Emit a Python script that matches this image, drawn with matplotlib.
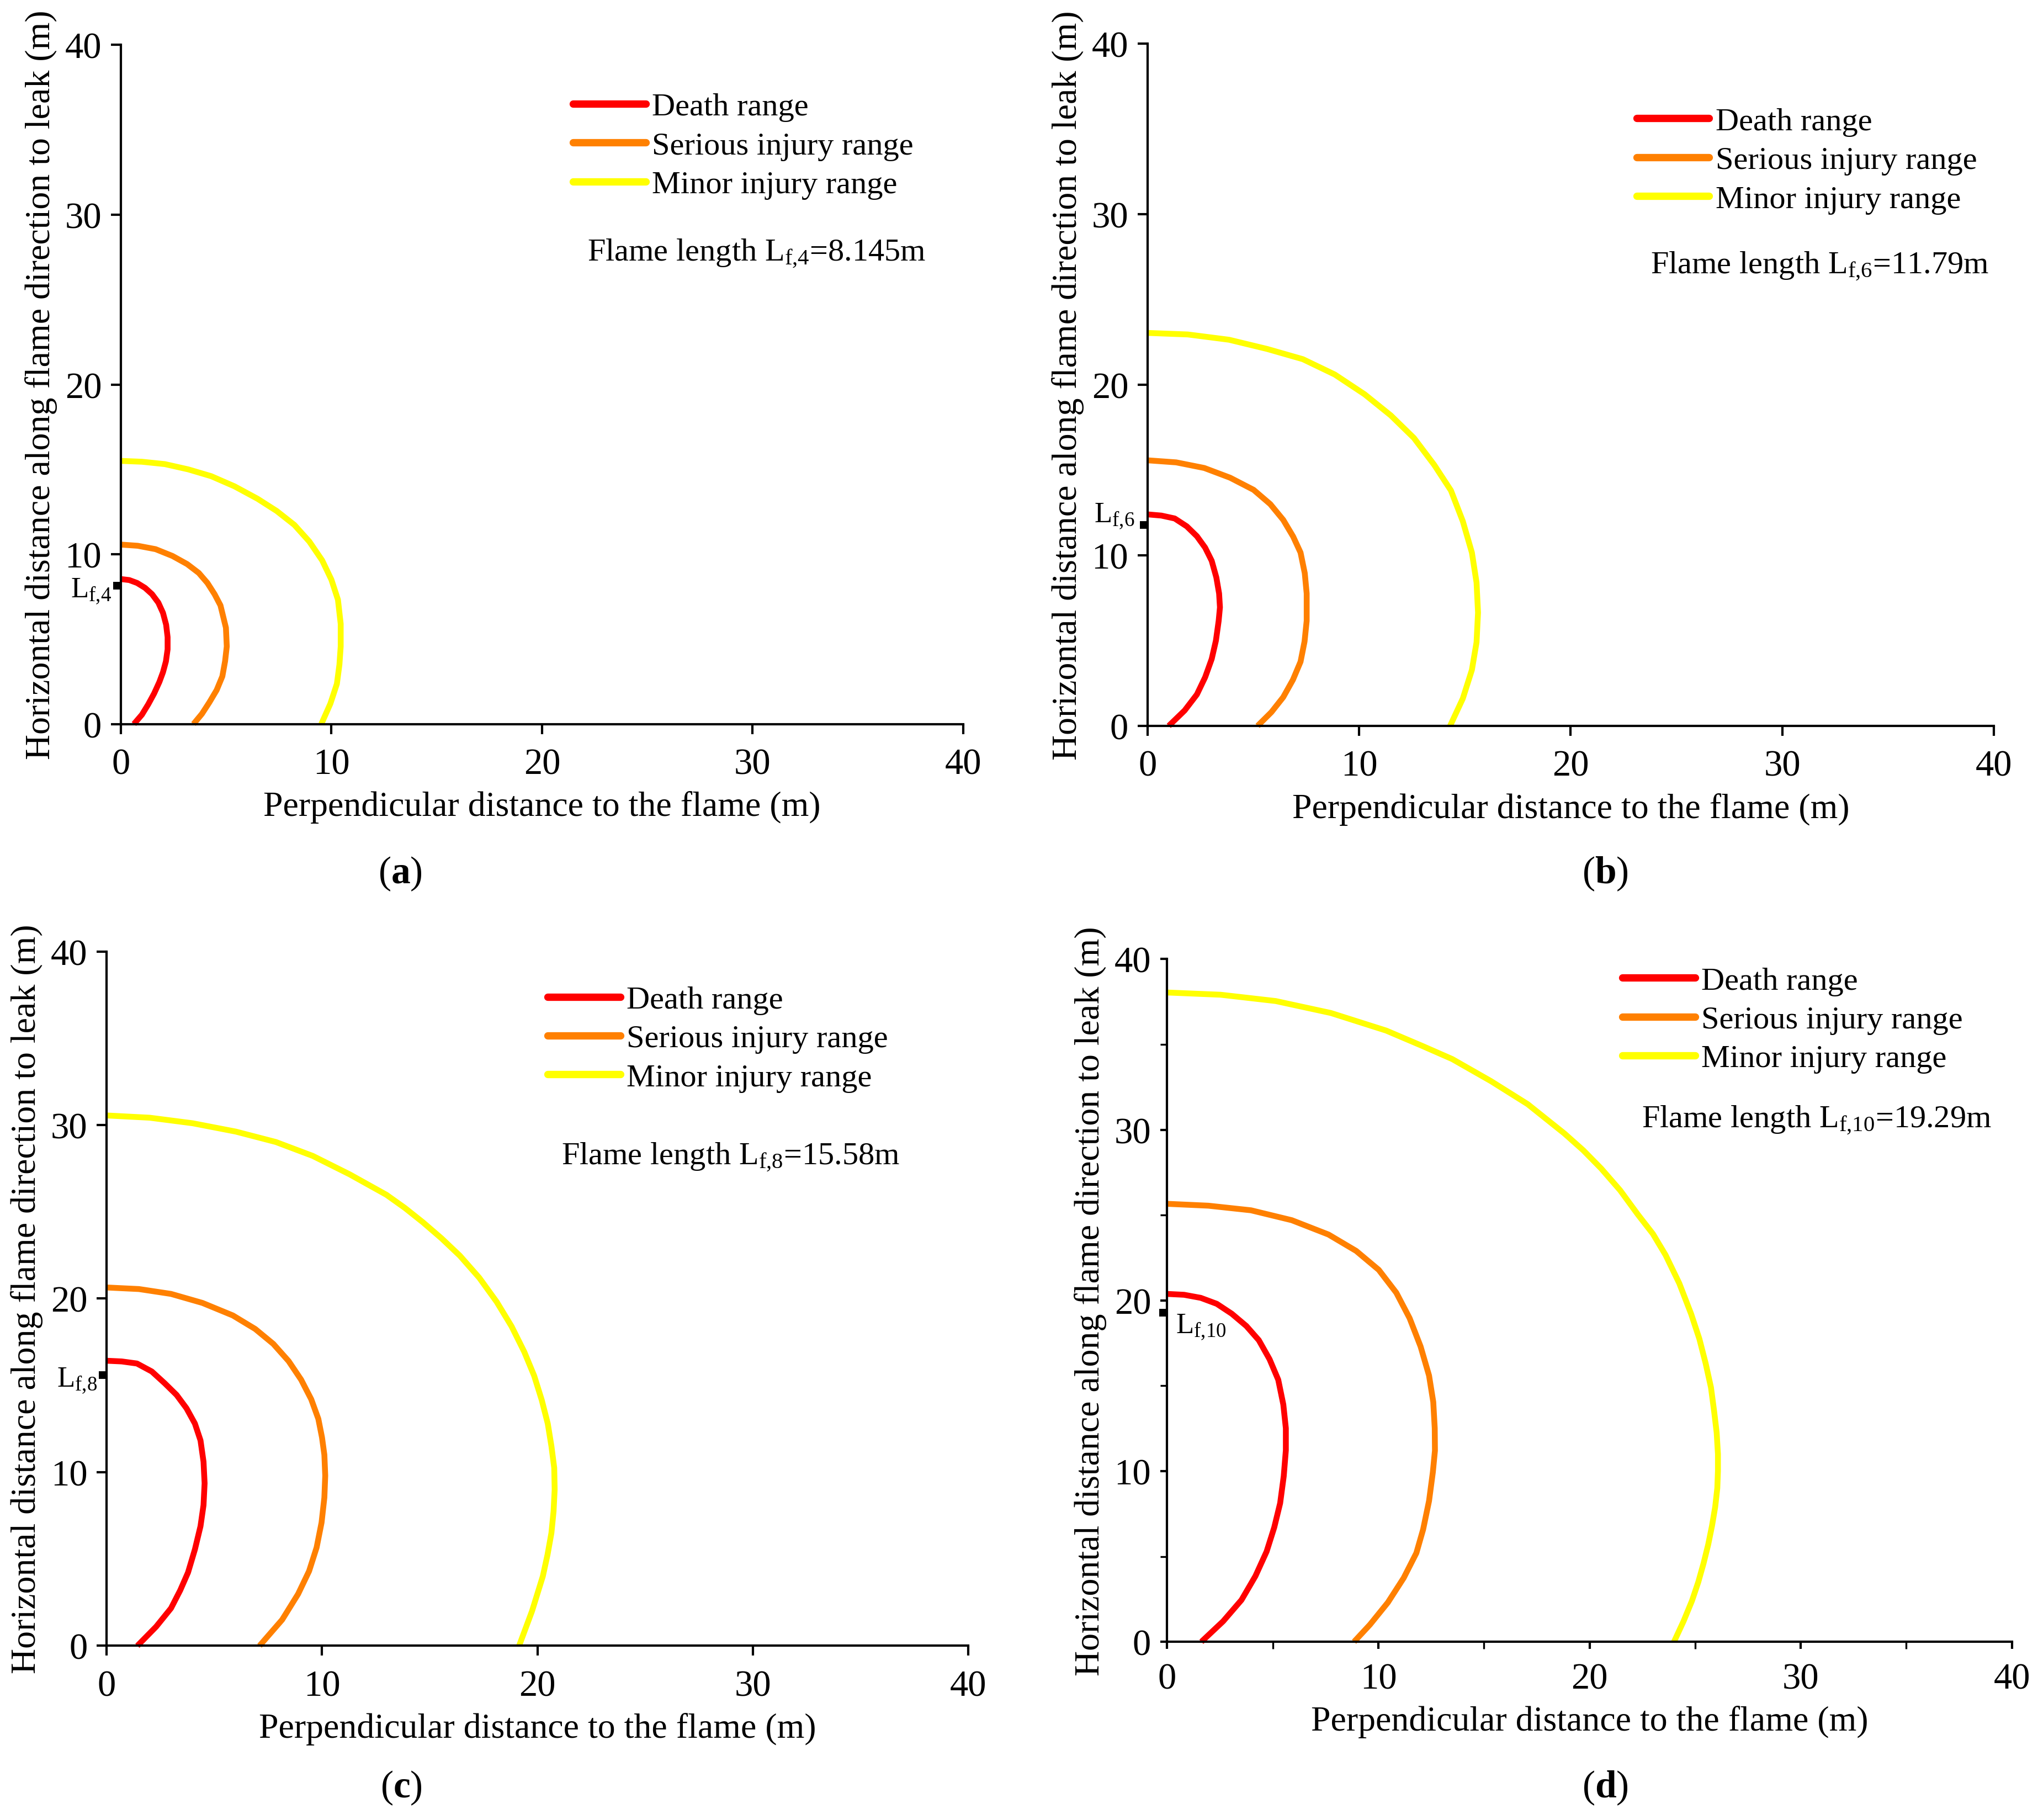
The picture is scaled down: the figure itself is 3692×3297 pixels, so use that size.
import matplotlib
matplotlib.use("Agg")
import matplotlib.pyplot as plt
from matplotlib.ticker import MultipleLocator

plt.rcParams['font.family'] = ['Liberation Serif', 'DejaVu Serif']
plt.rcParams['mathtext.fontset'] = 'custom'
plt.rcParams['mathtext.rm'] = 'Liberation Serif'
plt.rcParams['mathtext.it'] = 'Liberation Serif:italic'
plt.rcParams['mathtext.bf'] = 'Liberation Serif:bold'

# ---- data (x = perpendicular, y = along flame) ----
# panel (a)
death_a_x = [0, 0.4, 0.77, 1.15, 1.48, 1.78, 2.0, 2.15, 2.22, 2.22, 2.14, 2.0, 1.83, 1.58, 1.3, 1.0, 0.62]
death_a_y = [8.54, 8.48, 8.31, 8.02, 7.65, 7.15, 6.55, 5.85, 5.12, 4.4, 3.69, 3.05, 2.48, 1.8, 1.16, 0.55, 0]
serious_a_x = [0, 0.8, 1.65, 2.45, 3.15, 3.7, 4.11, 4.45, 4.73, 4.99, 5.03, 4.95, 4.82, 4.55, 4.2, 3.85, 3.45]
serious_a_y = [10.57, 10.5, 10.3, 9.9, 9.42, 8.9, 8.31, 7.65, 6.99, 5.67, 4.57, 3.7, 2.81, 2.0, 1.27, 0.6, 0]
minor_a_x = [0, 1.0, 2.09, 3.2, 4.29, 5.4, 6.49, 7.4, 8.24, 8.95, 9.56, 10.0, 10.31, 10.44, 10.44, 10.38, 10.26, 9.95, 9.52]
minor_a_y = [15.5, 15.45, 15.31, 15.0, 14.6, 14.0, 13.27, 12.55, 11.73, 10.75, 9.64, 8.5, 7.32, 5.9, 4.57, 3.5, 2.37, 1.2, 0]

# panel (b)
death_b_x = [0, 0.65, 1.28, 1.85, 2.33, 2.72, 3.03, 3.25, 3.38, 3.42, 3.36, 3.23, 3.03, 2.72, 2.33, 1.75, 1.0]
death_b_y = [12.4, 12.33, 12.16, 11.7, 11.12, 10.45, 9.68, 8.7, 7.76, 6.95, 6.16, 5.0, 3.92, 2.85, 1.84, 0.9, 0]
serious_b_x = [0, 1.35, 2.68, 3.9, 5.01, 5.8, 6.41, 6.88, 7.23, 7.43, 7.52, 7.52, 7.42, 7.23, 6.87, 6.41, 5.85, 5.2]
serious_b_y = [15.57, 15.45, 15.12, 14.55, 13.84, 13.0, 12.08, 11.1, 10.16, 8.95, 7.76, 6.16, 4.95, 3.76, 2.7, 1.68, 0.8, 0]
minor_b_x = [0, 1.9, 3.85, 5.65, 7.34, 8.85, 10.26, 11.5, 12.59, 13.55, 14.34, 14.9, 15.33, 15.55, 15.62, 15.55, 15.33, 14.9, 14.3]
minor_b_y = [23.04, 22.95, 22.64, 22.1, 21.5, 20.6, 19.44, 18.2, 16.88, 15.3, 13.8, 12.0, 10.16, 8.4, 6.64, 4.9, 3.28, 1.6, 0]

# panel (c)
death_c_x = [0, 0.7, 1.41, 2.1, 2.7, 3.25, 3.71, 4.1, 4.36, 4.5, 4.55, 4.5, 4.36, 4.1, 3.78, 3.42, 2.99, 2.3, 1.43]
death_c_y = [16.42, 16.38, 16.26, 15.8, 15.12, 14.45, 13.68, 12.8, 11.83, 10.6, 9.36, 8.1, 6.89, 5.55, 4.22, 3.2, 2.16, 1.1, 0]
serious_c_x = [0, 1.5, 2.99, 4.45, 5.86, 6.9, 7.74, 8.45, 9.03, 9.5, 9.83, 10.0, 10.11, 10.15, 10.11, 9.98, 9.75, 9.4, 8.89, 8.15, 7.1]
serious_c_y = [20.64, 20.55, 20.27, 19.75, 19.03, 18.25, 17.39, 16.4, 15.33, 14.2, 13.07, 12.0, 11.0, 9.8, 8.54, 7.1, 5.66, 4.3, 2.98, 1.5, 0]
minor_c_x = [0, 2.0, 4.0, 6.0, 7.86, 9.57, 11.28, 12.99, 13.85, 14.69, 15.55, 16.4, 17.3, 18.11, 18.8, 19.39,
             19.85, 20.2, 20.48, 20.65, 20.78, 20.8, 20.75, 20.65, 20.47, 20.25, 19.75, 19.15]
minor_c_y = [30.55, 30.42, 30.1, 29.62, 29.02, 28.22, 27.16, 25.98, 25.22, 24.39, 23.47, 22.47, 21.2, 19.81, 18.4, 16.93,
             15.55, 14.16, 12.8, 11.5, 10.25, 9.0, 7.75, 6.5, 5.25, 4.0, 2.0, 0]

# panel (d)
death_d_x = [0, 0.8, 1.59, 2.35, 3.06, 3.75, 4.34, 4.85, 5.26, 5.5, 5.62, 5.62, 5.52, 5.35, 5.07, 4.71, 4.18, 3.52, 2.65, 1.62]
death_d_y = [20.38, 20.33, 20.15, 19.8, 19.22, 18.5, 17.67, 16.55, 15.35, 13.9, 12.51, 11.22, 9.7, 8.12, 6.7, 5.29, 3.85, 2.45, 1.2, 0]
serious_d_x = [0, 1.95, 3.97, 5.9, 7.64, 8.95, 10.02, 10.85, 11.48, 12.0, 12.4, 12.6, 12.67, 12.68, 12.58, 12.4, 12.12, 11.8, 11.2, 10.45, 9.6, 8.85]
serious_d_y = [25.66, 25.55, 25.28, 24.7, 23.86, 22.9, 21.79, 20.45, 18.96, 17.3, 15.6, 14.05, 12.51, 11.2, 9.93, 8.25, 6.58, 5.2, 3.74, 2.3, 1.0, 0]
minor_d_x = [0, 2.53, 5.14, 7.75, 10.37, 12.1, 13.5, 15.33, 17.07, 18.81, 19.7, 20.55, 21.45, 22.29, 23.0, 23.6, 24.25,
             24.81, 25.2, 25.5, 25.75, 25.9, 26.02, 26.08, 26.08, 26.05, 25.95, 25.8, 25.62, 25.4, 25.15, 24.85, 24.45, 24.0]
minor_d_y = [38.04, 37.91, 37.54, 36.84, 35.81, 34.9, 34.14, 32.85, 31.5, 29.78, 28.8, 27.73, 26.45, 25.03, 23.9, 22.66, 21.0,
             19.21, 17.75, 16.3, 14.9, 13.5, 12.25, 11.0, 10.0, 9.0, 7.9, 6.8, 5.7, 4.6, 3.5, 2.4, 1.2, 0]

flame_len = [8.145, 11.79, 15.58, 19.29]
flame_txt = ["8.145", "11.79", "15.58", "19.29"]
flame_idx = ["4", "6", "8", "10"]
panel_tags = ["a", "b", "c", "d"]

range_names = ["Death range", "Serious injury range", "Minor injury range"]
range_colors = ["#FF0000", "#FF8000", "#FFFF00"]

curves = [
    [(death_a_x, death_a_y), (serious_a_x, serious_a_y), (minor_a_x, minor_a_y)],
    [(death_b_x, death_b_y), (serious_b_x, serious_b_y), (minor_b_x, minor_b_y)],
    [(death_c_x, death_c_y), (serious_c_x, serious_c_y), (minor_c_x, minor_c_y)],
    [(death_d_x, death_d_y), (serious_d_x, serious_d_y), (minor_d_x, minor_d_y)],
]

# layout (figure fractions) of each panel: left, bottom, width, height
boxes = [
    (0.0593, 0.602, 0.4133, 0.373),
    (0.5631, 0.601, 0.4152, 0.3747),
    (0.0523, 0.0957, 0.4228, 0.3814),
    (0.5727, 0.0979, 0.4145, 0.375),
]
legend_pos = [(0.537, 0.930), (0.578, 0.907), (0.512, 0.951), (0.539, 0.989)]
flame_pos = [(0.554, 0.693), (0.594, 0.674), (0.528, 0.704), (0.562, 0.764)]
# Lf label offsets in points and alignment
lf_offsets = [(-6, -7, 'right'), (-8.5, 2, 'right'), (-6, -7, 'right'), (5.5, -13, 'left')]
tag_pos = [(0.1964, 0.520), (0.7876, 0.520), (0.197, 0.018), (0.7876, 0.018)]

fig = plt.figure(figsize=(18.46, 16.49), dpi=200)

for i in range(4):
    ax = fig.add_axes(boxes[i])
    for (xs, ys), name, col in zip(curves[i], range_names, range_colors):
        ax.plot(xs, ys, color=col, lw=3.8, label=name, clip_on=False,
                solid_capstyle='butt', solid_joinstyle='round')

    ax.set_xlim(0, 40)
    ax.set_ylim(0, 40)
    ax.xaxis.set_major_locator(MultipleLocator(10))
    ax.yaxis.set_major_locator(MultipleLocator(10))
    for side in ['top', 'right']:
        ax.spines[side].set_visible(False)
    for side in ['left', 'bottom']:
        ax.spines[side].set_linewidth(1.5)
    tick_len = 6.5 if i < 3 else 4.5
    ax.tick_params(which='major', direction='out', length=tick_len, width=1.5,
                   labelsize=24)
    ax.tick_params(axis='x', which='major', pad=9)
    ax.tick_params(axis='y', which='major', pad=6)
    if i == 3:
        ax.xaxis.set_minor_locator(MultipleLocator(5))
        ax.yaxis.set_minor_locator(MultipleLocator(5))
        ax.tick_params(which='minor', direction='out', length=4.5, width=1.2)

    ax.set_xlabel("Perpendicular distance to the flame (m)", fontsize=23, labelpad=6)
    ax.set_ylabel("Horizontal distance along flame direction to leak (m)", fontsize=23, labelpad=5)

    leg = ax.legend(loc='upper left', bbox_to_anchor=legend_pos[i], frameon=False,
                    fontsize=21, handlelength=2.25, handletextpad=0.2,
                    labelspacing=0.3, borderaxespad=0, borderpad=0)
    for h in leg.get_lines():
        h.set_linewidth(4.8)
        h.set_solid_capstyle('round')

    ax.text(flame_pos[i][0], flame_pos[i][1],
            "Flame length L$_{\\mathrm{f{,}" + flame_idx[i] + "}}$=" + flame_txt[i] + "m",
            transform=ax.transAxes, fontsize=21, ha='left', va='center')

    # flame length mark on the y axis
    ax.plot([0], [flame_len[i]], marker=0, markersize=5, mew=5, color='black',
            clip_on=False, zorder=5)
    dx, dy, ha = lf_offsets[i]
    ax.annotate("L$_{\\mathrm{f{,}" + flame_idx[i] + "}}$", xy=(0, flame_len[i]),
                xytext=(dx, dy), textcoords='offset points', ha=ha, va='baseline',
                fontsize=19, annotation_clip=False)

    fig.text(tag_pos[i][0], tag_pos[i][1], "($\\mathbf{" + panel_tags[i] + "}$)",
             fontsize=25, ha='center', va='center')

fig.savefig("out.png", dpi=200)
